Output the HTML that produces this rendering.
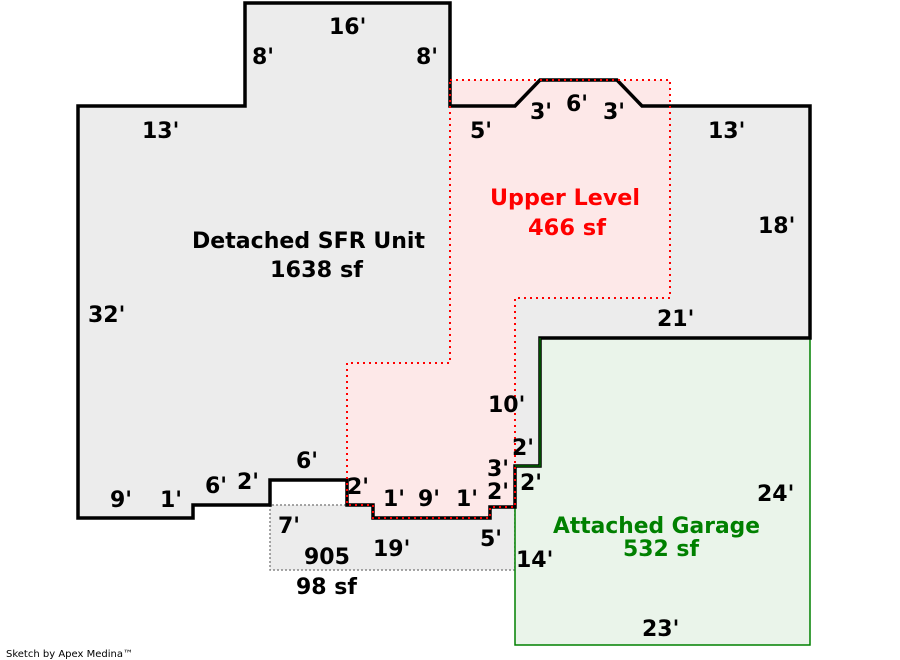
<!DOCTYPE html>
<html><head><meta charset="utf-8"><style>
html,body{margin:0;padding:0;background:#fff;width:900px;height:660px;overflow:hidden}
text{font-family:"DejaVu Sans","Liberation Sans",sans-serif;font-weight:bold;font-size:22px;fill:#000}
</style></head><body>
<svg width="900" height="660" xmlns="http://www.w3.org/2000/svg">
<polygon points="270,505 270,570 515,570 515,505" fill="#ececec" stroke="#888" stroke-width="1.5" stroke-dasharray="2,2"/>
<polygon points="78,106 245,106 245,3 450,3 450,106 515,106 540,80 617,80 642,106 810,106 810,338 540,338 540,466 515,466 515,507 490,507 490,518 373,518 373,505 347,505 347,480 270,480 270,505 193,505 193,518 78,518" fill="#ececec"/>
<polygon points="540,338 810,338 810,645 515,645 515,466 540,466" fill="#eaf4ea" stroke="#008000" stroke-width="1.5"/>
<polygon points="450,80 670,80 670,298 515,298 515,507 490,507 490,518 373,518 373,505 347,505 347,363 450,363" fill="#fde8e8"/>
<polygon points="78,106 245,106 245,3 450,3 450,106 515,106 540,80 617,80 642,106 810,106 810,338 540,338 540,466 515,466 515,507 490,507 490,518 373,518 373,505 347,505 347,480 270,480 270,505 193,505 193,518 78,518" fill="none" stroke="#000" stroke-width="3.5"/>
<polyline points="540,338 540,466 515,466" fill="none" stroke="#006400" stroke-width="1.5"/>
<polygon points="450,80 670,80 670,298 515,298 515,507 490,507 490,518 373,518 373,505 347,505 347,363 450,363" fill="none" stroke="#f00" stroke-width="2" stroke-dasharray="2,4"/>
<text x="329" y="34">16'</text>
<text x="252" y="64">8'</text>
<text x="416" y="64">8'</text>
<text x="142" y="138">13'</text>
<text x="470" y="138">5'</text>
<text x="530" y="119">3'</text>
<text x="566" y="111">6'</text>
<text x="603" y="119">3'</text>
<text x="708" y="138">13'</text>
<text x="758" y="233">18'</text>
<text x="88" y="322">32'</text>
<text x="657" y="326">21'</text>
<text x="488" y="412">10'</text>
<text x="512" y="455">2'</text>
<text x="487" y="476">3'</text>
<text x="520" y="490">2'</text>
<text x="487" y="499">2'</text>
<text x="296" y="468">6'</text>
<text x="347" y="494">2'</text>
<text x="383" y="506">1'</text>
<text x="418" y="506">9'</text>
<text x="456" y="506">1'</text>
<text x="110" y="507">9'</text>
<text x="160" y="507">1'</text>
<text x="205" y="493">6'</text>
<text x="237" y="489">2'</text>
<text x="278" y="533">7'</text>
<text x="304" y="564">905</text>
<text x="373" y="556">19'</text>
<text x="480" y="546">5'</text>
<text x="516" y="567">14'</text>
<text x="296" y="594">98 sf</text>
<text x="757" y="501">24'</text>
<text x="642" y="636">23'</text>
<text x="192" y="248" textLength="233" lengthAdjust="spacingAndGlyphs">Detached SFR Unit</text>
<text x="270" y="277" textLength="93" lengthAdjust="spacingAndGlyphs">1638 sf</text>
<text x="490" y="205" textLength="150" lengthAdjust="spacingAndGlyphs" style="fill:#f00">Upper Level</text>
<text x="528" y="235" textLength="78" lengthAdjust="spacingAndGlyphs" style="fill:#f00">466 sf</text>
<text x="553" y="533" textLength="207" lengthAdjust="spacingAndGlyphs" style="fill:#008000">Attached Garage</text>
<text x="623" y="556" textLength="76" lengthAdjust="spacingAndGlyphs" style="fill:#008000">532 sf</text>
<text x="6" y="657" style="font-size:10px;font-weight:normal">Sketch by Apex Medina™</text>
</svg>
</body></html>
